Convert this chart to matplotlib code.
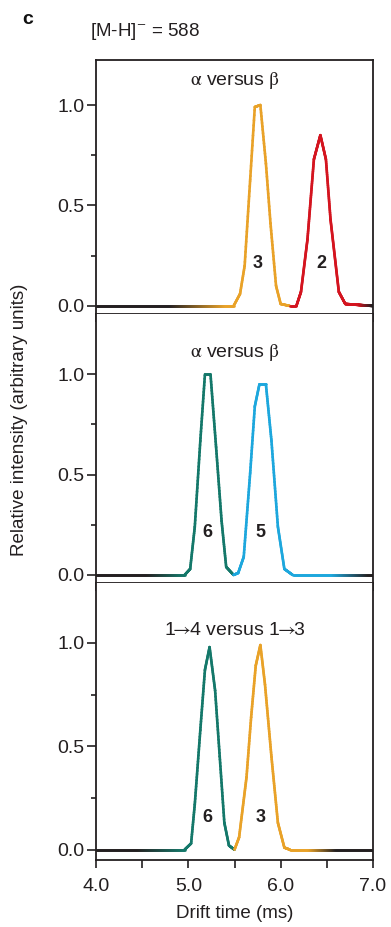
import numpy as np
import matplotlib
matplotlib.use("Agg")
import matplotlib.pyplot as plt
from matplotlib.collections import LineCollection
from matplotlib.colors import to_rgb

plt.rcParams['font.family'] = ['Liberation Sans', 'DejaVu Sans']
plt.rcParams['mathtext.fontset'] = 'stix'
plt.rcParams['font.size'] = 13

# ---- data (drift time in ms, relative intensity) ----
p1_t3 = [4.00, 5.00, 5.49, 5.56, 5.61, 5.67, 5.72, 5.78, 5.84, 5.89, 5.95, 6.00, 6.10]
p1_i3 = [0.00, 0.00, 0.00, 0.06, 0.20, 0.63, 0.99, 1.00, 0.71, 0.41, 0.10, 0.01, 0.00]
p1_t2 = [6.10, 6.17, 6.22, 6.29, 6.36, 6.43, 6.49, 6.54, 6.63, 6.70, 7.00]
p1_i2 = [0.00, 0.00, 0.07, 0.33, 0.73, 0.85, 0.73, 0.43, 0.07, 0.01, 0.00]

p2_t6 = [4.00, 4.96, 5.02, 5.07, 5.13, 5.18, 5.24, 5.30, 5.36, 5.41, 5.49]
p2_i6 = [0.00, 0.00, 0.03, 0.24, 0.67, 1.00, 1.00, 0.64, 0.27, 0.04, 0.00]
p2_t5 = [5.49, 5.54, 5.60, 5.67, 5.72, 5.77, 5.84, 5.90, 5.97, 6.04, 6.13, 7.00]
p2_i5 = [0.00, 0.01, 0.09, 0.51, 0.84, 0.95, 0.95, 0.67, 0.24, 0.03, 0.00, 0.00]

p3_t6 = [4.00, 4.96, 5.03, 5.07, 5.13, 5.18, 5.23, 5.29, 5.34, 5.39, 5.44, 5.50]
p3_i6 = [0.00, 0.00, 0.03, 0.22, 0.58, 0.87, 0.98, 0.77, 0.45, 0.13, 0.02, 0.00]
p3_t3 = [5.50, 5.55, 5.63, 5.68, 5.73, 5.78, 5.83, 5.90, 5.97, 6.04, 6.10, 7.00]
p3_i3 = [0.00, 0.06, 0.35, 0.64, 0.89, 0.99, 0.80, 0.45, 0.13, 0.01, 0.00, 0.00]

panel_titles = [r'$\mathrm{\alpha}$ versus $\mathrm{\beta}$',
                r'$\mathrm{\alpha}$ versus $\mathrm{\beta}$',
                r'1$\!\!\rightarrow\!\!$4 versus 1$\!\!\rightarrow\!\!$3']
title_y = [1.12, 1.11, 1.06]
peak_labels = [[('3', 5.75), ('2', 6.44)], [('6', 5.21), ('5', 5.78)], [('6', 5.21), ('3', 5.78)]]
label_y = [0.21, 0.21, 0.155]

ORANGE = '#E9A228'
RED = '#D4141F'
GREEN = '#14786A'
BLUE = '#1DA7DD'
INK = '#231F20'

# traces: (t, i, color, fade_in(start,end) or None, fade_out(start,end) or None)
panels = [
    [(p1_t3, p1_i3, ORANGE, (4.8, 5.4), None), (p1_t2, p1_i2, RED, None, (6.85, 7.0))],
    [(p2_t6, p2_i6, GREEN, (4.55, 4.95), None), (p2_t5, p2_i5, BLUE, None, (6.55, 6.95))],
    [(p3_t6, p3_i6, GREEN, (4.45, 4.95), None), (p3_t3, p3_i3, ORANGE, None, (6.3, 6.6))],
]

ylims = [(-0.04, 1.224), (-0.04, 1.30), (-0.05, 1.29)]
H = 927.0
W = 391.0
boxes = [(60, 314), (314, 583), (583, 860)]
left, right = 96 / W, 373 / W


def draw_trace(ax, t, i, color, fin, fout):
    t = np.asarray(t, float)
    i = np.asarray(i, float)
    # subdivide only for gradient rendering
    tt = np.union1d(np.linspace(t[0], t[-1], 600), t)
    ii = np.interp(tt, t, i)
    w = np.ones_like(tt)
    if fin is not None:
        w = np.minimum(w, np.clip((tt - fin[0]) / (fin[1] - fin[0]), 0, 1))
    if fout is not None:
        w = np.minimum(w, np.clip((fout[1] - tt) / (fout[1] - fout[0]), 0, 1))
    c = np.array(to_rgb(color))
    k = np.array(to_rgb(INK))
    wm = 0.5 * (w[:-1] + w[1:])
    cols = k[None, :] * (1 - wm[:, None]) + c[None, :] * wm[:, None]
    pts = np.column_stack([tt, ii]).reshape(-1, 1, 2)
    segs = np.concatenate([pts[:-1], pts[1:]], axis=1)
    lc = LineCollection(segs, colors=cols, linewidths=1.9, capstyle='round', joinstyle='round')
    ax.add_collection(lc)


fig = plt.figure(figsize=(W / 100, H / 100), dpi=100)
for n, (top, bot) in enumerate(boxes):
    ax = fig.add_axes([left, 1 - bot / H, right - left, (bot - top) / H])
    for tr in panels[n]:
        draw_trace(ax, *tr)
    ax.set_xlim(4.0, 7.0)
    ax.set_ylim(*ylims[n])
    ax.set_yticks([0.0, 0.5, 1.0])
    ax.set_yticklabels(['0.0', '0.5', '1.0'])
    ax.set_yticks([0.25, 0.75], minor=True)
    ax.set_xticks([4.0, 4.5, 5.0, 5.5, 6.0, 6.5, 7.0])
    if n == 2:
        ax.set_xticklabels(['4.0', '', '5.0', '', '6.0', '', '7.0'])
        ax.set_xlabel('Drift time (ms)', fontsize=13.5, labelpad=7, color=INK)
    else:
        ax.set_xticklabels([])
    ax.tick_params(axis='y', which='major', direction='out', length=6.5, width=1.2,
                   colors=INK, labelsize=14, pad=2)
    ax.tick_params(axis='y', which='minor', direction='out', length=3.5, width=1.2, colors=INK)
    ax.tick_params(axis='x', which='major', direction='out', length=6, width=1.2,
                   colors=INK, labelsize=14, pad=7)
    for s in ax.spines.values():
        s.set_linewidth(1.3)
        s.set_color(INK)
    if n > 0:
        ax.spines['top'].set_visible(False)
    ax.text(5.5, title_y[n], panel_titles[n], ha='center', va='center',
            fontsize=14, color=INK)
    for lab, x in peak_labels[n]:
        ax.text(x, label_y[n], lab, ha='center', va='center', fontsize=13,
                fontweight='bold', color=INK)

fig.text(20 / W, 1 - 420 / H, 'Relative intensity (arbitrary units)', rotation=90,
         ha='center', va='center', fontsize=13.5, color=INK)
fig.text(22 / W, 1 - 19 / H, 'c', ha='left', va='center', fontsize=14,
         fontweight='heavy', color='#111111')
fig.text(90 / W, 1 - 31 / H, '[M-H]$^{-}$ = 588', ha='left', va='center',
         fontsize=13.5, color=INK)

fig.savefig('out.png', dpi=100)
